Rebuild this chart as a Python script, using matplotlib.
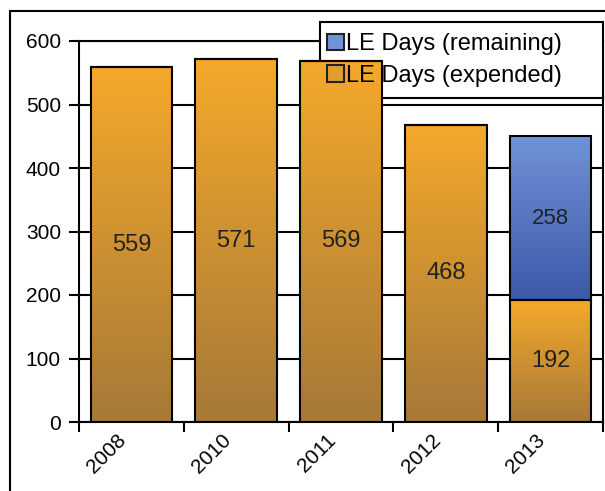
import numpy as np
import matplotlib
matplotlib.use("Agg")
import matplotlib.pyplot as plt
import matplotlib.transforms as mtransforms
from matplotlib.colors import LinearSegmentedColormap
from matplotlib.patches import Rectangle, Patch

plt.rcParams['font.family'] = ['Liberation Sans', 'DejaVu Sans']

# data
years = ["2008", "2010", "2011", "2012", "2013"]
expended = [559, 571, 569, 468, 192]
remaining = [0, 0, 0, 0, 258]
y_ticks = [0, 100, 200, 300, 400, 500, 600]

ORANGE_TOP, ORANGE_BOTTOM = "#f4a92a", "#a67938"
BLUE_TOP, BLUE_BOTTOM = "#7093d8", "#3c59a8"


def gradient_fill(ax, bars, top_color, bottom_color):
    """Fill each bar with a vertical gradient clipped to the bar outline."""
    cmap = LinearSegmentedColormap.from_list("g", [bottom_color, top_color])
    grad = np.linspace(0, 1, 256).reshape(-1, 1)
    for b in bars:
        if b.get_height() <= 0:
            continue
        x0, y0 = b.get_x(), b.get_y()
        im = ax.imshow(grad, extent=[x0, x0 + b.get_width(), y0, y0 + b.get_height()],
                       origin="lower", cmap=cmap, aspect="auto", zorder=2.5,
                       interpolation="bilinear")
        im.set_clip_path(b)


fig = plt.figure(figsize=(6.05, 4.91), dpi=100)
ax = fig.add_axes([79 / 605, 1 - 422 / 491, 524 / 605, 381 / 491])

# outer frame of the original slide
fig.patches.append(Rectangle((10 / 605, -0.1), 1.2, 1 - 11 / 491 + 0.1,
                             transform=fig.transFigure, fill=False,
                             edgecolor="black", linewidth=1.5, zorder=0))

x = np.arange(len(years))
width = 0.78
bars_exp = ax.bar(x, expended, width, facecolor="none", edgecolor="black",
                  linewidth=1.5, zorder=3)
bars_rem = ax.bar(x, remaining, width, bottom=expended, facecolor="none",
                  edgecolor="black", linewidth=1.5, zorder=3)
bars_rem = [b for b, v in zip(bars_rem, remaining) if v > 0]
gradient_fill(ax, bars_exp, ORANGE_TOP, ORANGE_BOTTOM)
gradient_fill(ax, bars_rem, BLUE_TOP, BLUE_BOTTOM)

# value labels in the middle of each segment
for i, v in enumerate(expended):
    ax.text(x[i], v / 2, str(v), ha="center", va="center", fontsize=17,
            color="#222222", zorder=6)
for i, v in enumerate(remaining):
    if v > 0:
        ax.text(x[i], expended[i] + v / 2, str(v), ha="center", va="center",
                fontsize=16, color="#222222", zorder=6)

ax.set_xlim(-0.5, len(years) - 0.5)
ax.set_ylim(0, 600)
ax.set_yticks(y_ticks)
ax.yaxis.grid(True, color="black", linewidth=1.5)
ax.set_axisbelow(True)
ax.tick_params(axis="y", direction="out", length=7, width=1.5, labelsize=15, pad=6)

# tick marks between categories, labels under the bars
ax.set_xticks(np.arange(len(years) + 1) - 0.5)
ax.set_xticklabels([])
ax.set_xticks(x, minor=True)
ax.set_xticklabels(years, minor=True, rotation=45, ha="right", va="center",
                   rotation_mode="anchor", fontsize=15)
ax.tick_params(axis="x", which="major", direction="out", length=7, width=1.5)
ax.tick_params(axis="x", which="minor", length=0, pad=11)
shift = mtransforms.ScaledTranslation(-6 / 72, 0, fig.dpi_scale_trans)
for lab in ax.get_xticklabels(minor=True):
    lab.set_transform(lab.get_transform() + shift)

for s in ax.spines.values():
    s.set_linewidth(1.5)
ax.spines["top"].set_zorder(1.5)
ax.spines["right"].set_zorder(1.5)

# legend box sits under the bars, the legend entries on top (as in the original)
box_x0, box_y0 = (320 - 79) / 524, (422 - 98) / 381
box_w, box_h = (603 - 320) / 524, 76 / 381
ax.add_patch(Rectangle((box_x0, box_y0), box_w, box_h, transform=ax.transAxes,
                       facecolor="white", edgecolor="black", linewidth=1.5,
                       clip_on=False, zorder=2))

handles = [Patch(facecolor=BLUE_TOP, edgecolor="#222222", linewidth=1.5),
           Patch(facecolor="#e39d2e", edgecolor="#222222", linewidth=1.5)]
labels = ["LE Days (remaining)", "LE Days (expended)"]
leg = ax.legend(handles, labels, loc="center left",
                bbox_to_anchor=(box_x0, box_y0, box_w, box_h),
                frameon=False, fontsize=17, handlelength=0.7, handleheight=0.7,
                handletextpad=0.1, labelspacing=0.4, borderpad=0.3,
                borderaxespad=0)
leg.set_zorder(7)

fig.savefig("out.png", dpi=100)
